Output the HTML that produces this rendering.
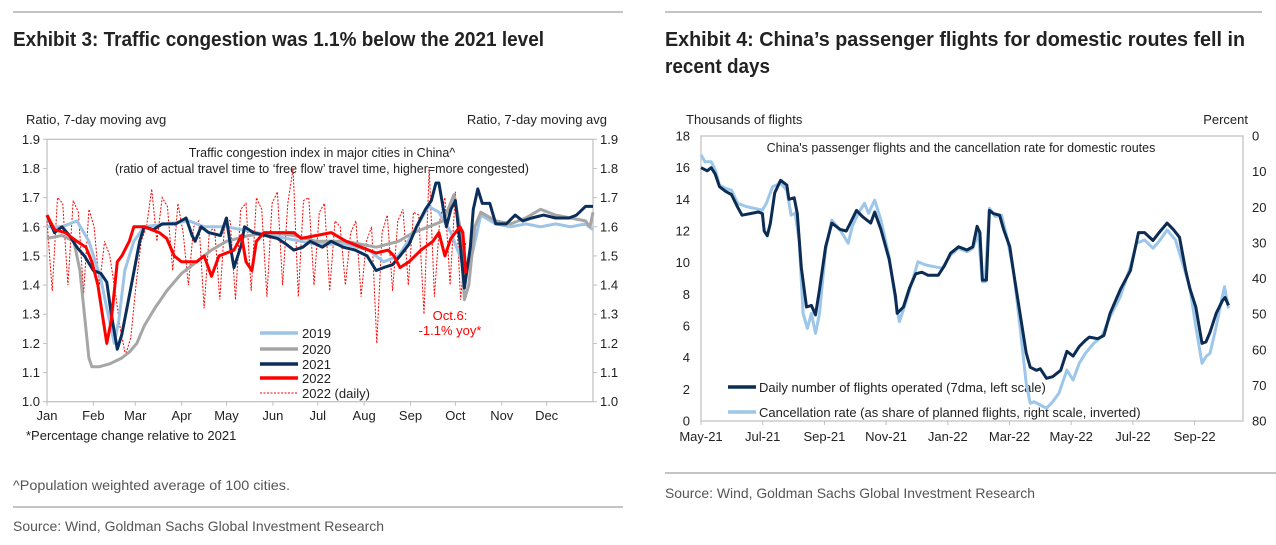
<!DOCTYPE html>
<html><head><meta charset="utf-8">
<style>
html,body{margin:0;padding:0;background:#fff;}
svg{display:block;font-family:"Liberation Sans",Arial,sans-serif;}
</style></head>
<body>
<svg id="page" width="1276" height="545" viewBox="0 0 1276 545" xmlns="http://www.w3.org/2000/svg">
  <line x1="13" y1="12" x2="623" y2="12" stroke="#b0b0b0" stroke-width="1.5"/>
  <line x1="665" y1="12" x2="1262" y2="12" stroke="#b0b0b0" stroke-width="1.5"/>
  <text x="13" y="46" font-size="20" font-weight="bold" fill="#222" textLength="531" lengthAdjust="spacingAndGlyphs">Exhibit 3: Traffic congestion was 1.1% below the 2021 level</text>
  <text x="665" y="46" font-size="20" font-weight="bold" fill="#222" textLength="580" lengthAdjust="spacingAndGlyphs">Exhibit 4: China’s passenger flights for domestic routes fell in</text>
  <text x="665" y="73" font-size="20" font-weight="bold" fill="#222" textLength="105" lengthAdjust="spacingAndGlyphs">recent days</text>

  <!-- left chart -->
  <g id="left">
    <text x="26" y="124" font-size="13" fill="#222">Ratio, 7-day moving avg</text>
    <text x="607" y="124" font-size="13" fill="#222" text-anchor="end">Ratio, 7-day moving avg</text>
    <text x="322" y="157" font-size="12.5" fill="#222" text-anchor="middle">Traffic congestion index in major cities in China^</text>
    <text x="322" y="173" font-size="12.5" fill="#222" text-anchor="middle">(ratio of actual travel time to ‘free flow’ travel time, higher=more congested)</text>
    <text x="26" y="440" font-size="13" fill="#222">*Percentage change relative to 2021</text>
    <text x="450" y="320" font-size="13" fill="#ff0000" text-anchor="middle">Oct.6:</text>
    <text x="450" y="335" font-size="13" fill="#ff0000" text-anchor="middle">-1.1% yoy*</text>
    <g id="lgL">
      <line x1="260" y1="333" x2="298" y2="333" stroke="#9dc3e6" stroke-width="3.5"/>
      <text x="302" y="338" font-size="13" fill="#222">2019</text>
      <line x1="260" y1="349" x2="298" y2="349" stroke="#a6a6a6" stroke-width="3.5"/>
      <text x="302" y="354" font-size="13" fill="#222">2020</text>
      <line x1="260" y1="364" x2="298" y2="364" stroke="#0b2f5a" stroke-width="3.5"/>
      <text x="302" y="369" font-size="13" fill="#222">2021</text>
      <line x1="260" y1="378" x2="298" y2="378" stroke="#ff0000" stroke-width="3.5"/>
      <text x="302" y="383" font-size="13" fill="#222">2022</text>
      <line x1="260" y1="393" x2="298" y2="393" stroke="#ff0000" stroke-width="1" stroke-dasharray="2,1.5"/>
      <text x="302" y="398" font-size="13" fill="#222">2022 (daily)</text>
    </g>
  </g>

  <!-- right chart -->
  <g id="right">
    <text x="686" y="124" font-size="13" fill="#222">Thousands of flights</text>
    <text x="1248" y="124" font-size="13" fill="#222" text-anchor="end">Percent</text>
    <text x="961" y="152" font-size="12.5" fill="#222" text-anchor="middle">China's passenger flights and the cancellation rate for domestic routes</text>
    <line x1="728" y1="387" x2="756" y2="387" stroke="#0c2c54" stroke-width="3.5"/>
    <text x="759" y="392" font-size="13" fill="#222">Daily number of flights operated (7dma, left scale)</text>
    <line x1="728" y1="412" x2="756" y2="412" stroke="#9cc7ea" stroke-width="3.5"/>
    <text x="759" y="417" font-size="13" fill="#222">Cancellation rate (as share of planned flights, right scale, inverted)</text>
  </g>

  <text x="13" y="490" font-size="14" fill="#555" textLength="277" lengthAdjust="spacingAndGlyphs">^Population weighted average of 100 cities.</text>
  <line x1="13" y1="507" x2="623" y2="507" stroke="#b0b0b0" stroke-width="1.5"/>
  <text x="13" y="531" font-size="14" fill="#555" textLength="371" lengthAdjust="spacingAndGlyphs">Source: Wind, Goldman Sachs Global Investment Research</text>
  <line x1="665" y1="473" x2="1276" y2="473" stroke="#b0b0b0" stroke-width="1.5"/>
  <text x="665" y="498" font-size="14" fill="#555" textLength="370" lengthAdjust="spacingAndGlyphs">Source: Wind, Goldman Sachs Global Investment Research</text>
</svg>
<script>
const NS = "http://www.w3.org/2000/svg";
// ---------- Left chart data ----------
const monthLabels = ["Jan","Feb","Mar","Apr","May","Jun","Jul","Aug","Sep","Oct","Nov","Dec"];
const monthStartDays = [0,31,59,90,120,151,181,212,243,273,304,334];
const ratioTicks = [1.0,1.1,1.2,1.3,1.4,1.5,1.6,1.7,1.8,1.9];
const days2019 = [0,10,20,28,36,40,43,45,48,52,58,65,80,95,105,120,140,160,180,200,215,225,235,245,255,262,270,276,280,284,290,300,310,320,330,340,350,360,365];
const vals2019 = [1.6,1.6,1.62,1.55,1.42,1.32,1.25,1.2,1.28,1.45,1.55,1.6,1.61,1.62,1.6,1.6,1.58,1.56,1.54,1.54,1.52,1.48,1.5,1.58,1.67,1.65,1.58,1.5,1.44,1.5,1.64,1.61,1.6,1.61,1.6,1.61,1.6,1.61,1.59];
const days2020 = [0,10,18,22,25,28,30,35,42,50,55,60,65,72,80,90,100,110,120,135,150,165,180,200,220,235,245,255,265,272,276,279,282,286,290,300,310,320,330,340,350,360,363,365];
const vals2020 = [1.56,1.57,1.55,1.45,1.3,1.15,1.12,1.12,1.13,1.15,1.17,1.2,1.26,1.32,1.38,1.44,1.48,1.52,1.55,1.57,1.58,1.57,1.55,1.55,1.53,1.55,1.58,1.6,1.62,1.71,1.6,1.35,1.4,1.6,1.65,1.62,1.61,1.63,1.66,1.64,1.63,1.62,1.6,1.65];
const days2021 = [0,5,10,15,20,25,31,36,40,43,47,50,56,62,65,71,77,86,93,97,99,103,108,116,120,123,125,130,132,138,146,154,160,165,171,176,184,190,198,206,214,220,225,231,236,242,247,253,257,260,262,265,267,270,273,276,279,283,285,288,291,296,300,307,313,318,324,332,340,349,354,360,365];
const vals2021 = [1.64,1.58,1.6,1.57,1.53,1.5,1.45,1.44,1.41,1.3,1.18,1.23,1.39,1.55,1.6,1.59,1.61,1.61,1.63,1.57,1.55,1.6,1.58,1.57,1.63,1.52,1.46,1.54,1.6,1.58,1.57,1.56,1.54,1.52,1.53,1.55,1.53,1.55,1.53,1.52,1.5,1.45,1.46,1.47,1.5,1.54,1.6,1.66,1.69,1.75,1.75,1.66,1.6,1.66,1.69,1.55,1.39,1.53,1.66,1.73,1.68,1.68,1.61,1.61,1.64,1.62,1.63,1.64,1.63,1.63,1.64,1.67,1.67];
const days2022 = [0,5,12,20,26,30,34,37,40,43,47,50,55,58,65,75,80,85,90,100,105,110,115,125,130,133,137,140,145,155,165,170,180,190,200,210,220,228,232,236,242,250,258,262,266,270,276,278,280];
const vals2022 = [1.64,1.59,1.58,1.55,1.53,1.48,1.4,1.3,1.2,1.28,1.48,1.5,1.55,1.6,1.6,1.58,1.56,1.5,1.48,1.48,1.5,1.43,1.5,1.52,1.57,1.48,1.45,1.55,1.58,1.58,1.58,1.56,1.57,1.58,1.55,1.53,1.51,1.52,1.5,1.46,1.48,1.52,1.55,1.58,1.5,1.56,1.6,1.58,1.44];
const dailyStepDays = 3.5;
const daily2022 = [1.62,1.38,1.70,1.68,1.40,1.69,1.65,1.37,1.66,1.60,1.40,1.55,1.50,1.38,1.25,1.16,1.22,1.40,1.55,1.60,1.73,1.55,1.70,1.67,1.45,1.68,1.58,1.40,1.60,1.62,1.32,1.58,1.60,1.35,1.63,1.62,1.35,1.66,1.68,1.38,1.70,1.66,1.36,1.68,1.72,1.40,1.68,1.80,1.36,1.69,1.70,1.40,1.65,1.68,1.38,1.62,1.60,1.40,1.58,1.62,1.36,1.55,1.60,1.20,1.58,1.64,1.38,1.62,1.66,1.40,1.65,1.64,1.30,1.80,1.36,1.62,1.70,1.40,1.72,1.35,1.55];

// ---------- Right chart data ----------
const flightMonthLabels = ["May-21","Jul-21","Sep-21","Nov-21","Jan-22","Mar-22","May-22","Jul-22","Sep-22"];
const flightTicks = [0,2,4,6,8,10,12,14,16,18];
const pctTicks = [0,10,20,30,40,50,60,70,80];
const flightMonths = [0,0.2,0.33,0.46,0.6,0.8,0.99,1.19,1.33,1.59,1.86,1.99,2.05,2.15,2.25,2.39,2.58,2.78,2.85,3.02,3.12,3.25,3.42,3.58,3.71,3.84,4.04,4.24,4.51,4.71,4.84,5.04,5.24,5.5,5.63,5.83,6.1,6.3,6.36,6.56,6.76,6.96,7.16,7.36,7.69,7.89,8.09,8.35,8.62,8.81,8.95,9.04,9.12,9.25,9.35,9.48,9.68,9.81,10.01,10.14,10.34,10.54,10.67,10.87,11.0,11.2,11.4,11.66,11.86,12.06,12.26,12.46,12.59,12.86,13.06,13.26,13.59,13.92,14.18,14.38,14.65,14.85,15.11,15.31,15.51,15.71,15.84,16.04,16.24,16.37,16.5,16.7,16.9,16.99,17.1];
const flightVals = [16.0,15.8,16.0,15.6,14.8,14.5,14.3,13.5,13.0,13.1,13.2,13.1,12.0,11.7,12.5,14.4,15.2,14.9,14.0,14.1,13.1,9.7,7.2,7.3,6.7,8.3,11.0,12.5,12.1,12.0,12.5,13.3,12.9,12.5,13.2,12.1,10.2,7.9,6.8,7.2,8.4,9.3,9.4,9.2,9.2,9.8,10.6,11.0,10.8,11.0,12.3,11.9,8.9,8.9,13.3,13.1,13.0,12.1,11.0,9.3,6.8,4.3,3.4,3.2,3.3,2.7,2.8,3.2,4.4,4.1,4.7,5.1,5.3,5.2,5.4,6.8,8.3,9.5,11.9,11.9,11.4,11.9,12.5,12.1,11.6,9.5,8.4,7.2,4.9,5.0,5.6,6.8,7.6,7.8,7.3];
const cancelMonths = [0,0.13,0.33,0.46,0.6,0.8,0.99,1.19,1.46,1.72,1.99,2.12,2.32,2.58,2.78,2.92,3.05,3.18,3.31,3.45,3.58,3.71,3.84,4.04,4.24,4.51,4.77,4.9,5.1,5.3,5.43,5.63,5.83,6.1,6.3,6.43,6.63,6.89,7.03,7.29,7.56,7.82,8.09,8.35,8.62,8.81,8.99,9.12,9.21,9.35,9.54,9.74,9.94,10.14,10.34,10.54,10.67,10.8,11.0,11.2,11.4,11.6,11.86,12.06,12.26,12.46,12.73,12.99,13.26,13.59,13.92,14.12,14.38,14.65,14.85,15.11,15.38,15.58,15.84,16.04,16.24,16.37,16.5,16.7,16.83,16.97,17.1];
const cancelVals = [5.3,7.2,7.2,9.5,13.8,14.7,15.2,18.9,19.8,20.3,20.8,18.9,14.2,13.3,15.2,22.2,21.7,29.2,49.8,54,49.8,55.4,49.8,32,23.6,26.4,30.1,25.4,21.7,18.9,21.7,18,23.6,33.9,46,52.1,47,39.5,35.3,36.2,36.7,37.1,33.4,31.5,32.5,31.5,27.3,40.9,40.9,20.3,22.6,22.2,29.2,38.5,53.5,69.4,75,74.6,75.5,76.4,74.6,72.2,65.7,68.5,63.8,61,58.2,56.3,50.7,45.1,36.7,30.1,29.2,31.5,29.6,26.4,29.2,34.8,42.3,53.5,63.8,61.9,61,53.5,47.9,42.3,48.4];

function el(tag, attrs, parent){const e=document.createElementNS(NS,tag);for(const k in attrs)e.setAttribute(k,attrs[k]);parent.appendChild(e);return e;}

// ---------- Left chart axes ----------
const L = {x0:47, x1:593, y0:401.7, y1:139.3};
const lx = d => L.x0 + d/365*(L.x1-L.x0);
const ly = v => L.y0 - (v-1.0)/0.9*(L.y0-L.y1);
const gL = document.getElementById('left');
const frameL = el('rect',{x:L.x0,y:L.y1,width:L.x1-L.x0,height:L.y0-L.y1,fill:'none',stroke:'#bfbfbf','stroke-width':1.2},gL);


ratioTicks.forEach(t=>{
  const a=el('text',{x:40,y:ly(t)+4.5,'font-size':13,fill:'#222','text-anchor':'end'},gL);a.textContent=t.toFixed(1);
  
  
  const b=el('text',{x:600,y:ly(t)+4.5,'font-size':13,fill:'#222'},gL);b.textContent=t.toFixed(1);
  
  
  const m1=el('line',{x1:L.x0-4,x2:L.x0,y1:ly(t),y2:ly(t),stroke:'#bfbfbf'},gL);
  
  
  const m2=el('line',{x1:L.x1,x2:L.x1+4,y1:ly(t),y2:ly(t),stroke:'#bfbfbf'},gL);
  
  
});
monthLabels.forEach((m,i)=>{
  const x=lx(monthStartDays[i]);
  const t=el('text',{x:x,y:420,'font-size':13,fill:'#222','text-anchor':'middle'},gL);t.textContent=m;
  
  
  const k=el('line',{x1:x,x2:x,y1:L.y0,y2:L.y0+4,stroke:'#bfbfbf'},gL);
  
  
});
function pathD(xs,vs,fx,fy){return xs.map((d,i)=>(i?'L':'M')+fx(d).toFixed(1)+','+fy(vs[i]).toFixed(1)).join('');}
const dailyDays = daily2022.map((v,i)=>i*dailyStepDays);
const sDaily=el('path',{d:pathD(dailyDays,daily2022,lx,ly),fill:'none',stroke:'#ff0000','stroke-width':1,'stroke-dasharray':'2,1.5'},gL);


const s19=el('path',{d:pathD(days2019,vals2019,lx,ly),fill:'none',stroke:'#9dc3e6','stroke-width':3,'stroke-linejoin':'round'},gL);


const s20=el('path',{d:pathD(days2020,vals2020,lx,ly),fill:'none',stroke:'#a6a6a6','stroke-width':3,'stroke-linejoin':'round'},gL);


const s21=el('path',{d:pathD(days2021,vals2021,lx,ly),fill:'none',stroke:'#0b2f5a','stroke-width':3,'stroke-linejoin':'round'},gL);


const s22=el('path',{d:pathD(days2022,vals2022,lx,ly),fill:'none',stroke:'#ff0000','stroke-width':3,'stroke-linejoin':'round'},gL);


gL.appendChild(document.getElementById('lgL'));

// ---------- Right chart axes ----------
const R = {x0:701, x1:1243, y0:421, y1:136, mEnd:17.8};
const monthPx = (1194.6-701)/16;
const rx = m => R.x0 + m*monthPx;
const ryF = v => R.y0 - v/18*(R.y0-R.y1);
const ryP = p => R.y1 + p/80*(R.y0-R.y1);
const gR = document.getElementById('right');
const frameR=el('rect',{x:R.x0,y:R.y1,width:R.x1-R.x0,height:R.y0-R.y1,fill:'none',stroke:'#bfbfbf','stroke-width':1.2},gR);


flightTicks.forEach(t=>{
  const a=el('text',{x:690,y:ryF(t)+4.5,'font-size':13,fill:'#222','text-anchor':'end'},gR);a.textContent=t;
  
  
});
pctTicks.forEach(t=>{
  const a=el('text',{x:1252,y:ryP(t)+4.5,'font-size':13,fill:'#222'},gR);a.textContent=t;
  
  
});
flightMonthLabels.forEach((m,i)=>{
  const x=rx(i*2);
  const t=el('text',{x:x,y:441,'font-size':13,fill:'#222','text-anchor':'middle'},gR);t.textContent=m;
  
  
  const k=el('line',{x1:x,x2:x,y1:R.y0,y2:R.y0+4,stroke:'#bfbfbf'},gR);
  
  
});
const sCan=el('path',{d:pathD(cancelMonths,cancelVals,rx,ryP),fill:'none',stroke:'#9cc7ea','stroke-width':3,'stroke-linejoin':'round'},gR);


const sFl=el('path',{d:pathD(flightMonths,flightVals,rx,ryF),fill:'none',stroke:'#0c2c54','stroke-width':3,'stroke-linejoin':'round'},gR);


</script>
</body></html>
